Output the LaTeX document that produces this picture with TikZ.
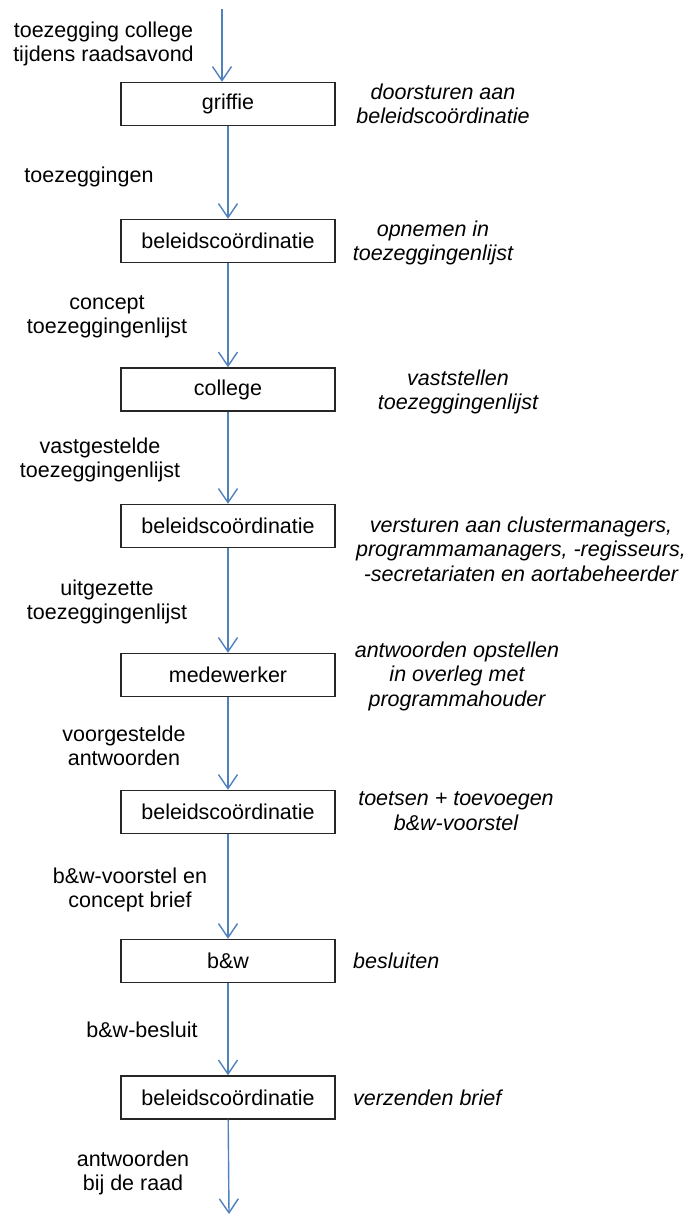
\documentclass[tikz,border=0pt]{standalone}
\usepackage{fontspec}
\setmainfont{Liberation Sans}
\usetikzlibrary{arrows.meta}

\begin{document}
\begin{tikzpicture}[x=1pt,y=-1pt,
  font=\fontsize{21.5}{24.5}\selectfont,
  stap/.style={draw=black!85, line width=1.4pt, minimum width=214pt, minimum height=43pt, inner sep=0pt},
  stroom/.style={align=center, inner sep=0pt},
  actie/.style={align=center, inner sep=0pt, font=\fontsize{21.5}{24.5}\selectfont\itshape},
  pijl/.style={draw=pijlblauw, line width=1.4pt, -{Straight Barb[length=14pt,width=19pt]}}]
\definecolor{pijlblauw}{RGB}{79,129,189}
	\useasboundingbox (0,0) rectangle (692,1216);

	% de stappen
	\node[stap] (griffie) at (228,104) {griffie};
	\node[stap] (beleid1) at (228,241) {beleidscoördinatie};
	\node[stap] (college) at (228,389.5) {college};
	\node[stap] (beleid2) at (228,526) {beleidscoördinatie};
	\node[stap] (medewerker) at (228,675) {medewerker};
	\node[stap] (beleid3) at (228,812) {beleidscoördinatie};
	\node[stap] (bw) at (228,961) {b\&w};
	\node[stap] (beleid4) at (228,1097.5) {beleidscoördinatie};

	\coordinate (bron) at (222,9);
	\coordinate (raad) at (229,1214);

	% stromen links
	\node[stroom] (s0) at (103.5,44) {toezegging college\\tijdens raadsavond};
	\node[stroom] (s1) at (89,177) {toezeggingen};
	\node[stroom] (s2) at (107,317) {concept\\toezeggingenlijst};
	\node[stroom] (s3) at (100,460) {vastgestelde\\toezeggingenlijst};
	\node[stroom] (s4) at (107,602) {uitgezette\\toezeggingenlijst};
	\node[stroom] (s5) at (124,746) {voorgestelde\\antwoorden};
	\node[stroom] (s6) at (130,890) {b\&w-voorstel en\\concept brief};
	\node[stroom] (s7) at (142,1030) {b\&w-besluit};
	\node[stroom] (s8) at (133,1173) {antwoorden\\bij de raad};

	% acties rechts
	\node[actie] (a1) at (443,104) {doorsturen aan\\beleidscoördinatie};
	\node[actie] (a2) at (433,243) {opnemen in\\toezeggingenlijst};
	\node[actie] (a3) at (458,392) {vaststellen\\toezeggingenlijst};
	\node[actie] (a4) at (521,549) {versturen aan clustermanagers,\\programmamanagers, -regisseurs,\\-secretariaten en aortabeheerder};
	\node[actie] (a5) at (457,676) {antwoorden opstellen\\in overleg met\\programmahouder};
	\node[actie] (a6) at (456,811) {toetsen + toevoegen\\b\&w-voorstel};
	\node[actie, anchor=west] (a7) at (353,961) {besluiten};
	\node[actie, anchor=west] (a8) at (353,1098) {verzenden brief};

	% pijlen
	\draw[pijl] (bron) -- (bron |- griffie.north);
	\draw[pijl] (griffie) -- (beleid1);
	\draw[pijl] (beleid1) -- (college);
	\draw[pijl] (college) -- (beleid2);
	\draw[pijl] (beleid2) -- (medewerker);
	\draw[pijl] (medewerker) -- (beleid3);
	\draw[pijl] (beleid3) -- (bw);
	\draw[pijl] (bw) -- (beleid4);
	\draw[pijl] (beleid4) -- (raad);
\end{tikzpicture}
\end{document}
